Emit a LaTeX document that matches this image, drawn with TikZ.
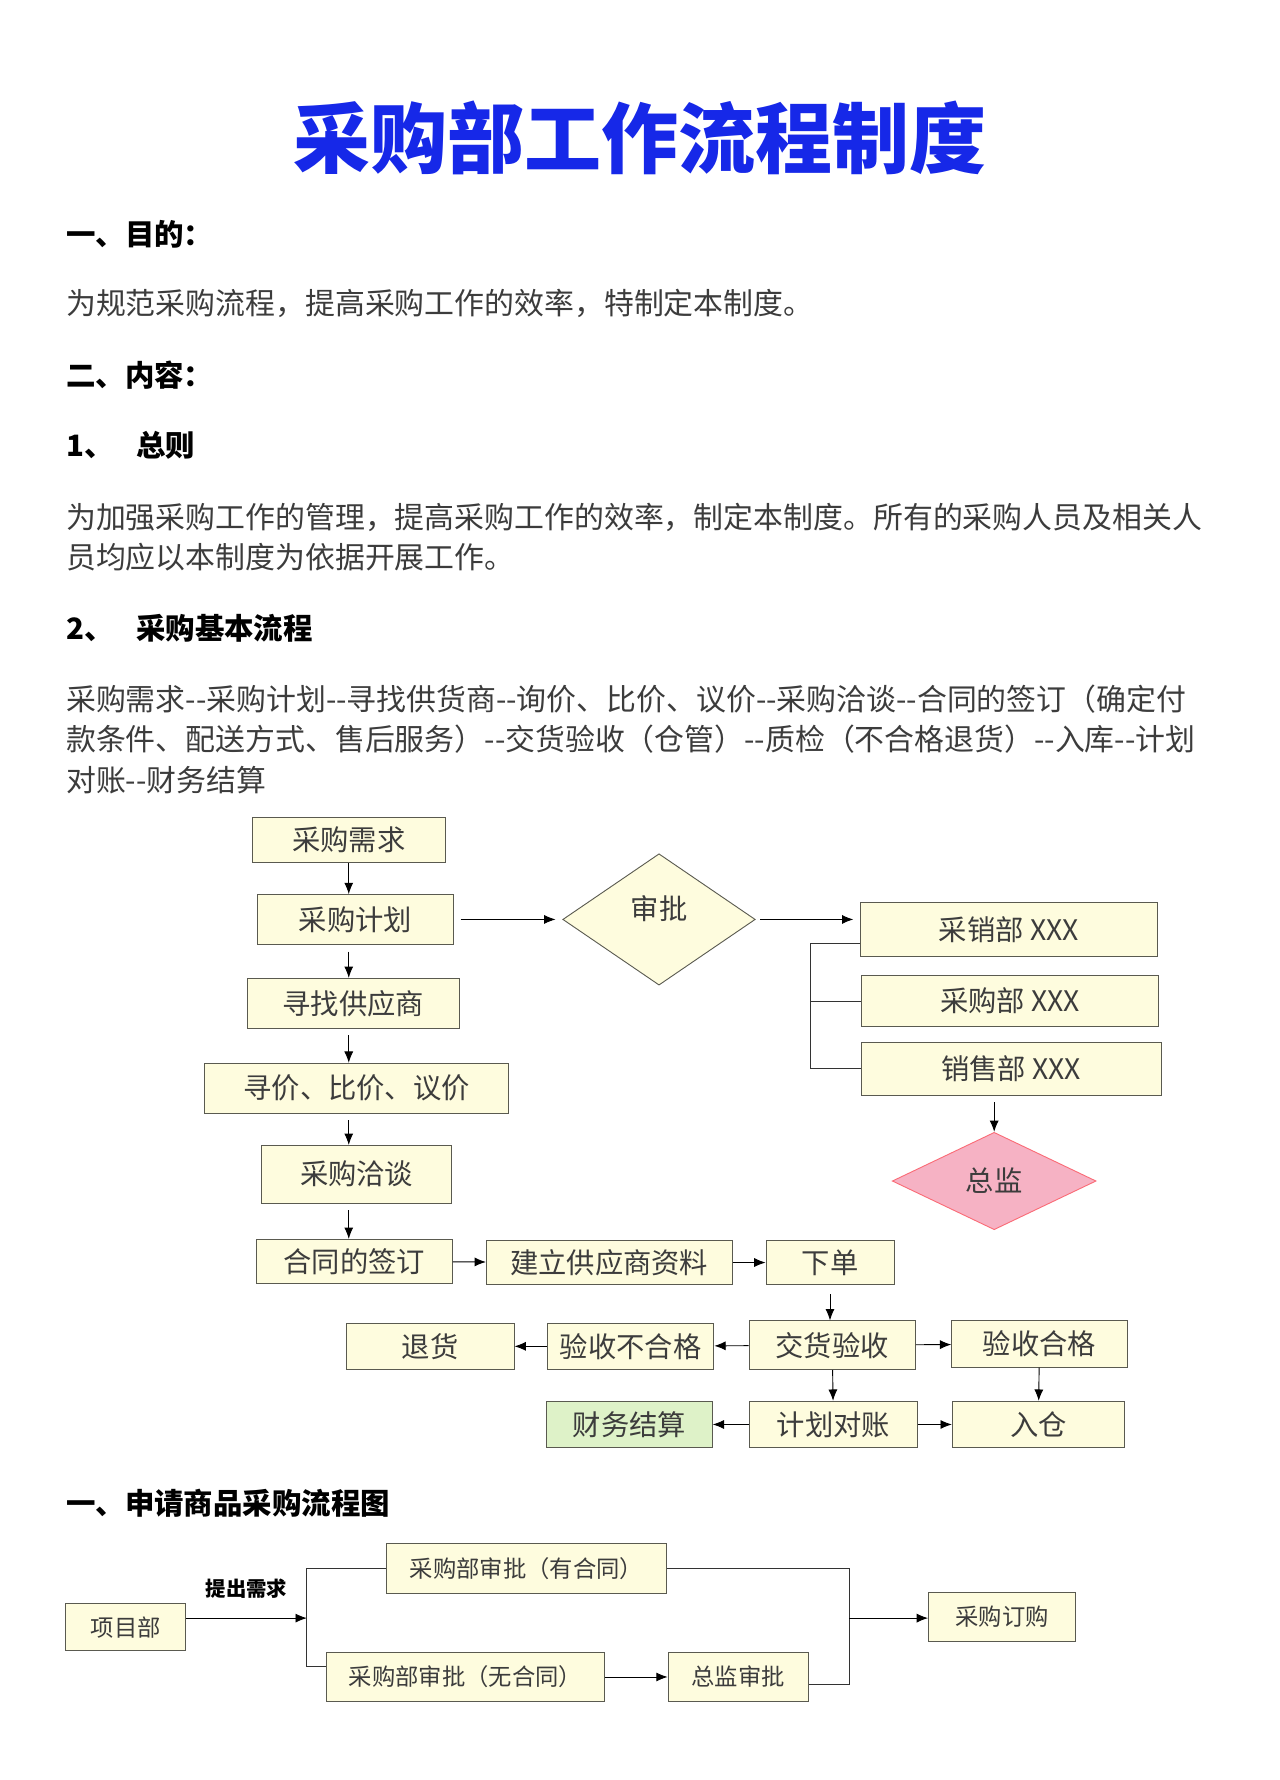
\documentclass[tikz,border=0pt]{standalone}
\usepackage{fontspec}
\newfontfamily\cjk{Noto Sans CJK SC}
\usetikzlibrary{shapes.geometric,arrows.meta}
\definecolor{Cream}{RGB}{254,252,222}
\definecolor{BoxLine}{RGB}{90,90,80}
\definecolor{TitleBlue}{RGB}{22,40,232}
\definecolor{Pinky}{RGB}{246,178,196}
\definecolor{Mint}{RGB}{222,242,200}
\definecolor{BodyGray}{RGB}{60,60,60}
\begin{document}
\begin{tikzpicture}[x=0.5pt,y=-0.5pt,
  every node/.style={font=\cjk},
  txt/.style={anchor=west, inner sep=0pt, text=BodyGray, font=\cjk\fontsize{13.2}{15}\selectfont},
  head/.style={anchor=west, inner sep=0pt, font=\cjk\bfseries\fontsize{13}{15}\selectfont},
  box/.style={draw=BoxLine, fill=Cream, rectangle, inner sep=0pt, text=BodyGray, font=\cjk\fontsize{12.5}{14}\selectfont},
  sbox/.style={box, font=\cjk\fontsize{10.3}{12}\selectfont},
  arr/.style={-{Latex[length=5pt,width=4pt]}, thin, black},
  ln/.style={thin, black!80}]
\useasboundingbox (0,0) rectangle (1130,1572);
\fill[white] (0,0) rectangle (1130,1572);
% heading and text
\node[text=TitleBlue, font=\cjk\bfseries\fontsize{34}{38}\selectfont] (title) at (565,122) {采购部工作流程制度};
\node[head] (h1) at (58,207) {一、目的：};
\node[txt] (p1) at (58,268) {为规范采购流程，提高采购工作的效率，特制定本制度。};
\node[head] (h2) at (58,331) {二、内容：};
\node[head] (h3) at (58,393) {1、\hspace{10pt}总则};
\node[txt] (p2a) at (58,457) {为加强采购工作的管理，提高采购工作的效率，制定本制度。所有的采购人员及相关人};
\node[txt] (p2b) at (58,492) {员均应以本制度为依据开展工作。};
\node[head] (h4) at (58,555) {2、\hspace{10pt}采购基本流程};
\node[txt] (p3a) at (58,617) {采购需求--采购计划--寻找供货商--询价、比价、议价--采购洽谈--合同的签订（确定付};
\node[txt] (p3b) at (58,653) {款条件、配送方式、售后服务）--交货验收（仓管）--质检（不合格退货）--入库--计划};
\node[txt] (p3c) at (58,689) {对账--财务结算};
% main flow
\node[box, minimum width=85pt, minimum height=20pt] (xq) at (308,742) {采购需求};
\node[box, minimum width=86.5pt, minimum height=22pt] (jh) at (314,812) {采购计划};
\node[box, minimum width=93.5pt, minimum height=22pt] (zy) at (312,886) {寻找供应商};
\node[box, minimum width=134pt, minimum height=22pt] (bj) at (315,961) {寻价、比价、议价};
\node[box, minimum width=84pt, minimum height=25.5pt] (qt) at (315,1037) {采购洽谈};
\node[box, minimum width=86.5pt, minimum height=19.5pt] (ht) at (313,1114) {合同的签订};
\node[box, minimum width=108.5pt, minimum height=19.5pt] (zl) at (538,1115) {建立供应商资料};
\node[box, minimum width=56.5pt, minimum height=19.5pt] (xd) at (733,1115) {下单};
\node[box, minimum width=73.5pt, minimum height=21.5pt] (ys) at (735,1188) {交货验收};
\node[box, minimum width=73.5pt, minimum height=20.5pt] (bhg) at (557,1189) {验收不合格};
\node[box, minimum width=74pt, minimum height=20.5pt] (th) at (380,1189) {退货};
\node[box, minimum width=77.5pt, minimum height=20.5pt] (hg) at (918,1187) {验收合格};
\node[box, minimum width=74pt, minimum height=20.5pt] (dz) at (736,1258) {计划对账};
\node[box, fill=Mint, minimum width=73pt, minimum height=20.5pt] (cw) at (556,1258) {财务结算};
\node[box, minimum width=76pt, minimum height=20.5pt] (rc) at (917,1258) {入仓};
\node[box, diamond, aspect=1.47, minimum width=85pt, minimum height=58pt, inner sep=0pt] (sp) at (582,812) {};
\node[text=BodyGray, font=\cjk\fontsize{12.5}{14}\selectfont] (spt) at (582,802) {审批};
\node[box, minimum width=131pt, minimum height=24pt] (cx) at (891,821) {采销部 XXX};
\node[box, minimum width=131.5pt, minimum height=22.5pt] (cg) at (892,884) {采购部 XXX};
\node[box, minimum width=132.5pt, minimum height=23pt] (xs) at (893,944) {销售部 XXX};
\node[box, diamond, fill=Pinky, draw=Pinky!60!red, aspect=2.09, minimum width=90pt, minimum height=43pt] (zj) at (878,1043) {总监};
\coordinate (br) at (716,833);
\draw[arr] (xq) -- (xq|-jh.north);
\draw[arr] ([yshift=-3]jh.south-|xq) -- (zy.north-|xq);
\draw[arr] ([yshift=-3]zy.south-|xq) -- (bj.north-|xq);
\draw[arr] ([yshift=-3]bj.south-|xq) -- (qt.north-|xq);
\draw[arr] ([yshift=-3]qt.south-|xq) -- (ht.north-|xq);
\draw[arr] ([xshift=3]jh.east) -- ([xshift=-3]sp.west);
\draw[arr] ([xshift=2]sp.east) -- ([xshift=-3]cx.west|-sp);
\draw[ln] (cx.west|-br) -- (br) |- (xs.west);
\draw[ln] (br|-cg) -- (cg.west);
\draw[arr] ([yshift=-3]xs.south-|zj) -- (zj.north);
\draw[arr] (ht) -- (zl);
\draw[arr] (zl) -- (xd);
\draw[arr] ([yshift=-4]xd.south) -- (ys.north-|xd);
\draw[arr] (ys) -- (bhg);
\draw[arr] (bhg) -- (th);
\draw[arr] (ys) -- (hg);
\draw[arr] (ys) -- (dz);
\draw[arr] (dz) -- (cw);
\draw[arr] (dz) -- (rc);
\draw[arr] (hg) -- (rc);
% purchase request chart
\node[head] (h5) at (58,1328) {一、申请商品采购流程图};
\node[sbox, minimum width=53pt, minimum height=21pt] (xm) at (111,1437) {项目部};
\node[sbox, minimum width=124pt, minimum height=22pt] (yht) at (465,1385) {采购部审批（有合同）};
\node[sbox, minimum width=122.5pt, minimum height=21.5pt] (wht) at (411,1481) {采购部审批（无合同）};
\node[sbox, minimum width=62pt, minimum height=21.5pt] (zjsp) at (652,1481) {总监审批};
\node[sbox, minimum width=65pt, minimum height=22pt] (dg) at (885,1428) {采购订购};
\coordinate (sl) at (271,1429);
\coordinate (sr) at (750,1429);
\draw[arr] (xm.east|-sl) -- node[above=5pt, font=\cjk\bfseries\fontsize{9}{10}\selectfont]{提出需求} (sl);
\draw[ln] (yht.west) -| (sl) |- ([yshift=4.5]wht.west);
\draw[arr] (wht) -- (zjsp);
\draw[ln] (yht.east) -| (sr) |- ([yshift=-3.5]zjsp.east);
\draw[arr] (sr) -- (dg.west|-sr);
\end{tikzpicture}
\end{document}
